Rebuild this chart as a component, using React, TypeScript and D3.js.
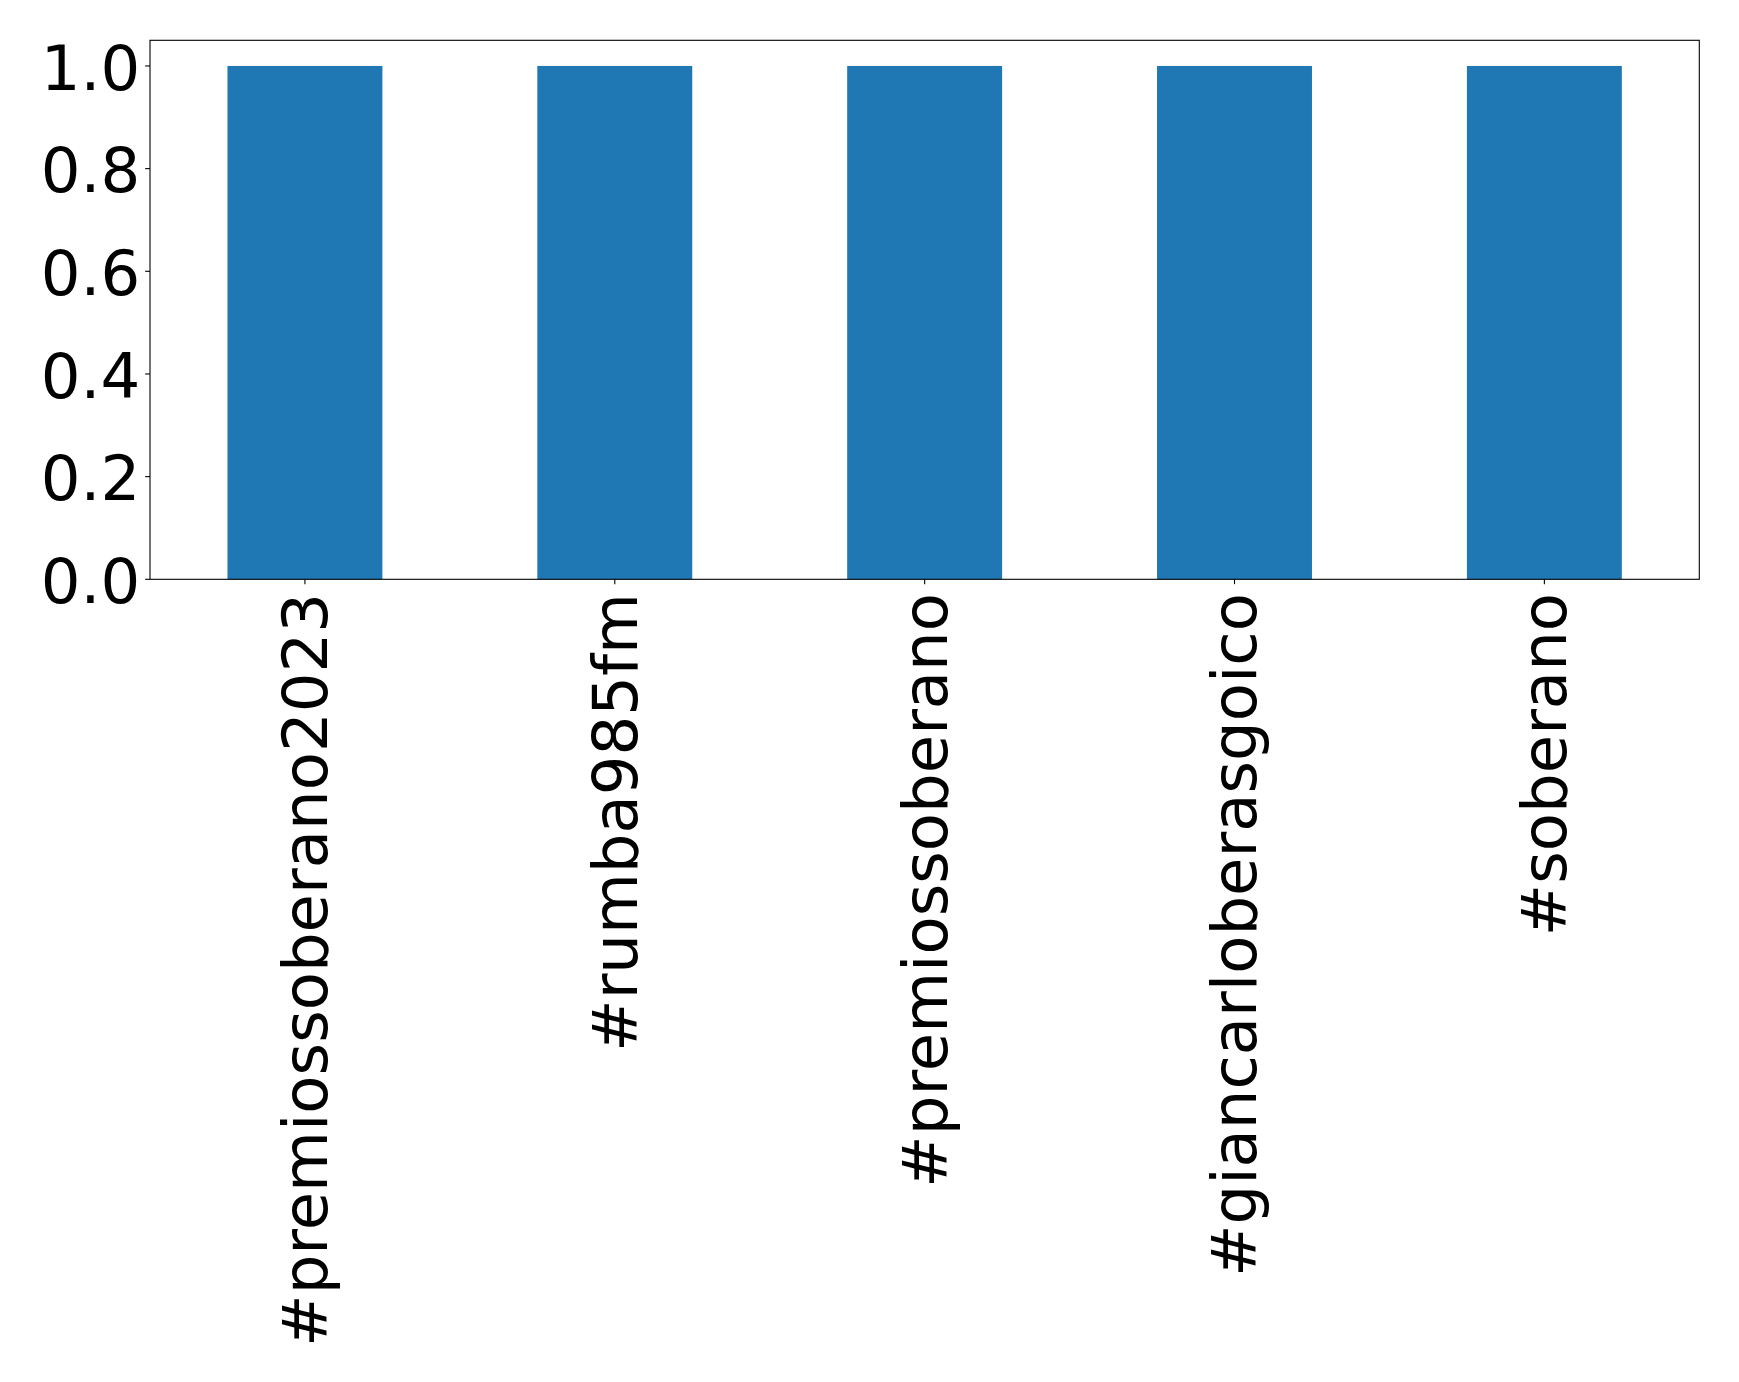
import React from "react";
import * as d3 from "d3";

const categories = [
  "#premiossoberano2023",
  "#rumba985fm",
  "#premiossoberano",
  "#giancarloberasgoico",
  "#soberano",
];
const values = [1, 1, 1, 1, 1];
const yTicks = [0, 0.2, 0.4, 0.6, 0.8, 1.0];

const W = 1739;
const H = 1382;
const left = 150;
const right = 1699.3;
const top = 40.3;
const bottom = 579.3;
const fontSize = 62.5;
const tickLen = 4.86;
const pad = 4.86;

export default function App() {
  const x = d3
    .scaleBand<string>()
    .domain(categories)
    .range([left, right])
    .paddingInner(0.5)
    .paddingOuter(0.25);
  const y = d3.scaleLinear().domain([0, 1.05]).range([bottom, top]);
  const font = "'DejaVu Sans', sans-serif";

  return (
    <svg
      width={W}
      height={H}
      style={{ position: "absolute", left: 0, top: 0, background: "#fff" }}
    >
      <rect x={0} y={0} width={W} height={H} fill="#fff" />
      {categories.map((c, i) => (
        <rect
          key={c}
          x={x(c)}
          y={y(values[i])}
          width={x.bandwidth()}
          height={y(0) - y(values[i])}
          fill="#1f77b4"
        />
      ))}
      <rect
        x={left}
        y={top}
        width={right - left}
        height={bottom - top}
        fill="none"
        stroke="#000"
        strokeWidth={1.1}
      />
      {yTicks.map((t) => (
        <g key={t}>
          <line
            x1={left - tickLen}
            x2={left}
            y1={y(t)}
            y2={y(t)}
            stroke="#000"
            strokeWidth={1.1}
          />
          <text
            x={left - tickLen - pad}
            y={y(t)}
            dy="0.38em"
            textAnchor="end"
            fontFamily={font}
            fontSize={fontSize}
            fill="#000"
          >
            {t.toFixed(1)}
          </text>
        </g>
      ))}
      {categories.map((c) => {
        const cx = (x(c) ?? 0) + x.bandwidth() / 2;
        return (
          <g key={c}>
            <line
              x1={cx}
              x2={cx}
              y1={bottom}
              y2={bottom + tickLen}
              stroke="#000"
              strokeWidth={1.1}
            />
            <text
              transform={`translate(${cx},${bottom + tickLen + pad + 4}) rotate(-90)`}
              dy="0.35em"
              textAnchor="end"
              fontFamily={font}
              fontSize={fontSize}
              fill="#000"
            >
              {c}
            </text>
          </g>
        );
      })}
    </svg>
  );
}
